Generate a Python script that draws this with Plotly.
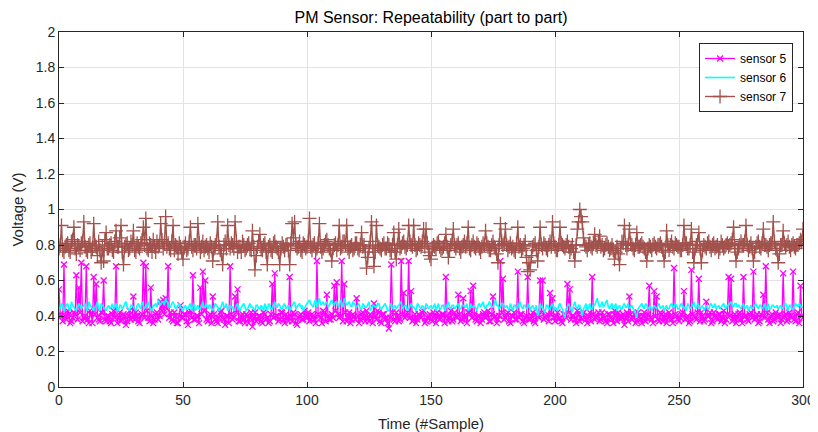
import plotly.graph_objects as go

# integer sample indices 0..300 and half-sample indices 0.5..299.5
samples_int = list(range(0, 301))
samples_half = [i + 0.5 for i in range(0, 300)]

# sensor 5 at integer samples (hundredths of a volt)
sensor5_cV = [
    55, 40, 69, 38, 41, 37, 42, 63, 56, 70,
    39, 68, 36, 41, 62, 58, 38, 42, 60, 37,
    40, 36, 43, 68, 39, 37, 41, 35, 40, 38,
    51, 42, 37, 40, 70, 68, 39, 56, 36, 41,
    38, 48, 49, 50, 68, 42, 37, 40, 36, 46,
    39, 41, 35, 43, 63, 38, 40, 56, 65, 60,
    37, 41, 51, 38, 36, 42, 39, 35, 40, 68,
    38, 51, 55, 37, 41, 36, 40, 39, 34, 42,
    38, 40, 36, 41, 39, 37, 58, 64, 40, 38,
    42, 36, 39, 62, 37, 41, 35, 40, 38, 43,
    39, 37, 41, 38, 71, 40, 36, 42, 52, 38,
    41, 57, 59, 39, 71, 58, 37, 42, 38, 40,
    50, 36, 41, 39, 43, 37, 40, 47, 38, 42,
    36, 41, 39, 33, 69, 38, 42, 37, 71, 53,
    40, 71, 54, 38, 36, 41, 39, 43, 37, 40,
    38, 42, 36, 40, 39, 41, 62, 37, 43, 38,
    40, 52, 37, 50, 39, 42, 54, 57, 38, 40,
    36, 41, 39, 43, 37, 51, 40, 38, 71, 61,
    39, 42, 36, 40, 38, 65, 41, 37, 39, 62,
    38, 42, 36, 40, 60, 60, 39, 41, 53, 50,
    37, 42, 39, 36, 41, 58, 55, 40, 38, 43,
    37, 41, 39, 36, 42, 62, 38, 40, 37, 42,
    39, 36, 41, 38, 43, 37, 40, 39, 35, 42,
    51, 38, 41, 37, 40, 36, 42, 39, 57, 38,
    54, 51, 37, 41, 39, 36, 42, 38, 67, 40,
    37, 41, 54, 39, 36, 66, 40, 38, 61, 42,
    37, 48, 40, 36, 42, 39, 41, 37, 43, 38,
    62, 61, 39, 36, 41, 38, 62, 40, 37, 42,
    65, 39, 36, 41, 52, 68, 38, 40, 37, 42,
    39, 36, 64, 41, 38, 40, 65, 37, 42, 57,
    39,
]

# sensor 5 at half samples (hundredths of a volt)
sensor5_half_cV = [
    41, 37, 40, 43, 36, 39, 41, 38, 42, 37,
    40, 38, 43, 36, 41, 39, 37, 42, 38, 40,
    37, 41, 39, 36, 42, 38, 40, 37, 43, 39,
    38, 40, 36, 41, 39, 43, 37, 40, 38, 42,
    40, 43, 41, 44, 39, 38, 42, 36, 40, 39,
    41, 37, 42, 39, 38, 40, 36, 41, 43, 38,
    40, 36, 41, 37, 39, 43, 38, 40, 36, 41,
    39, 42, 37, 40, 38, 41, 36, 42, 39, 37,
    40, 37, 42, 38, 36, 41, 39, 40, 37, 42,
    38, 41, 37, 40, 42, 36, 39, 41, 38, 40,
    42, 38, 40, 36, 41, 39, 43, 37, 40, 38,
    39, 43, 41, 40, 37, 42, 39, 36, 41, 38,
    40, 38, 42, 37, 39, 41, 36, 40, 43, 37,
    41, 38, 36, 39, 42, 37, 40, 38, 41, 39,
    42, 39, 37, 41, 38, 40, 42, 36, 39, 41,
    37, 40, 42, 38, 41, 36, 40, 39, 37, 42,
    39, 41, 38, 40, 36, 42, 39, 41, 37, 40,
    38, 42, 40, 37, 41, 39, 36, 40, 42, 38,
    41, 37, 40, 42, 38, 39, 41, 36, 40, 38,
    40, 37, 41, 39, 42, 38, 40, 37, 41, 39,
    40, 38, 37, 41, 39, 42, 38, 40, 36, 41,
    39, 42, 38, 40, 37, 41, 39, 42, 38, 40,
    37, 41, 39, 36, 40, 42, 38, 41, 39, 37,
    41, 39, 36, 42, 38, 40, 37, 41, 39, 36,
    40, 38, 42, 37, 41, 39, 40, 36, 41, 38,
    39, 42, 38, 40, 37, 41, 39, 42, 37, 40,
    38, 40, 42, 37, 40, 38, 41, 39, 36, 41,
    40, 37, 41, 39, 42, 36, 40, 38, 41, 39,
    38, 41, 37, 40, 39, 42, 36, 41, 38, 40,
    41, 38, 40, 37, 42, 39, 38, 41, 36, 40,
]

# sensor 6 at integer samples (hundredths of a volt)
sensor6_cV = [
    45, 47, 43, 46, 44, 48, 45, 43, 47, 44,
    46, 44, 48, 45, 43, 46, 44, 47, 45, 43,
    46, 45, 44, 47, 43, 46, 45, 48, 44, 46,
    45, 43, 47, 44, 46, 45, 48, 44, 46, 47,
    49, 46, 48, 50, 47, 45, 48, 44, 46, 45,
    43, 46, 44, 47, 45, 43, 46, 44, 48, 45,
    44, 46, 43, 47, 45, 44, 48, 45, 43, 46,
    45, 44, 47, 43, 46, 45, 44, 47, 45, 43,
    46, 44, 45, 47, 43, 46, 44, 48, 45, 46,
    44, 47, 45, 43, 46, 48, 45, 47, 46, 44,
    47, 49, 46, 48, 45, 50, 47, 46, 48, 46,
    49, 46, 48, 45, 47, 50, 46, 48, 45, 47,
    45, 47, 44, 46, 45, 48, 44, 46, 45, 47,
    44, 46, 45, 43, 47, 45, 44, 46, 48, 45,
    46, 44, 47, 45, 43, 46, 44, 45, 47, 44,
    46, 45, 43, 47, 44, 46, 45, 48, 44, 46,
    45, 47, 44, 46, 45, 43, 47, 45, 44, 46,
    45, 48, 44, 46, 47, 45, 49, 46, 45, 47,
    45, 44, 47, 43, 46, 45, 48, 44, 46, 45,
    43, 46, 44, 40, 47, 45, 42, 46, 44, 47,
    45, 43, 47, 44, 39, 46, 45, 42, 48, 44,
    46, 40, 45, 43, 47, 44, 46, 50, 45, 48,
    46, 49, 44, 47, 45, 43, 46, 44, 47, 45,
    44, 46, 43, 39, 45, 47, 44, 46, 45, 43,
    46, 44, 47, 45, 43, 46, 44, 47, 45, 46,
    44, 47, 45, 43, 46, 45, 48, 44, 46, 45,
    43, 46, 44, 47, 45, 44, 46, 45, 47, 44,
    46, 48, 45, 47, 46, 44, 47, 45, 43, 46,
    45, 47, 44, 46, 45, 43, 47, 44, 46, 45,
    44, 46, 45, 47, 43, 46, 44, 47, 45, 46,
    45,
]

# sensor 6 at half samples (hundredths of a volt)
sensor6_half_cV = [
    44, 46, 45, 47, 43, 46, 44, 45, 46, 45,
    47, 43, 46, 44, 45, 48, 43, 46, 44, 45,
    44, 47, 45, 43, 46, 44, 47, 45, 43, 46,
    44, 46, 45, 48, 44, 47, 45, 43, 46, 45,
    47, 48, 46, 48, 45, 47, 46, 45, 47, 44,
    45, 44, 46, 43, 47, 45, 44, 46, 45, 47,
    46, 44, 45, 46, 43, 46, 45, 47, 44, 45,
    43, 46, 44, 45, 47, 43, 46, 45, 44, 46,
    44, 46, 43, 45, 47, 44, 46, 45, 47, 44,
    46, 44, 46, 45, 47, 44, 46, 45, 43, 46,
    48, 47, 45, 49, 47, 46, 48, 47, 45, 48,
    47, 48, 46, 49, 45, 48, 47, 46, 48, 46,
    46, 44, 47, 45, 47, 43, 46, 45, 47, 44,
    45, 47, 43, 46, 44, 46, 45, 47, 44, 46,
    43, 46, 45, 44, 47, 45, 46, 43, 46, 45,
    44, 47, 45, 44, 46, 43, 47, 45, 46, 44,
    46, 44, 46, 45, 47, 44, 45, 46, 43, 47,
    47, 45, 46, 48, 45, 47, 46, 44, 47, 45,
    46, 43, 45, 46, 44, 47, 45, 46, 44, 47,
    45, 44, 46, 42, 45, 43, 46, 44, 46, 43,
    44, 46, 45, 41, 44, 47, 43, 46, 45, 46,
    43, 44, 47, 45, 44, 46, 48, 47, 46, 45,
    48, 45, 46, 44, 47, 45, 44, 46, 45, 47,
    45, 44, 41, 44, 46, 45, 47, 44, 46, 45,
    45, 46, 44, 46, 45, 44, 46, 45, 47, 44,
    46, 45, 44, 47, 44, 46, 45, 47, 44, 46,
    45, 44, 46, 45, 47, 45, 44, 46, 45, 46,
    47, 46, 47, 45, 45, 46, 44, 46, 45, 44,
    46, 45, 46, 44, 47, 45, 44, 46, 45, 46,
    45, 44, 47, 45, 46, 44, 45, 46, 47, 45,
]

# sensor 7 at integer samples (hundredths of a volt)
sensor7_cV = [
    78, 91, 76, 80, 77, 82, 90, 75, 79, 81,
    93, 77, 80, 76, 92, 79, 82, 70, 71, 87,
    78, 81, 76, 88, 79, 91, 69, 80, 77, 82,
    88, 76, 79, 81, 90, 95, 77, 80, 83, 76,
    79, 92, 78, 96, 81, 77, 91, 80, 75, 79,
    72, 81, 78, 90, 77, 80, 92, 76, 82, 79,
    78, 81, 71, 80, 93, 77, 69, 82, 91, 78,
    80, 93, 76, 79, 82, 77, 80, 78, 88, 66,
    79, 86, 77, 81, 69, 80, 76, 82, 78, 69,
    81, 77, 80, 69, 92, 93, 78, 82, 76, 80,
    79, 95, 77, 81, 78, 92, 76, 80, 83, 78,
    71, 80, 77, 91, 79, 82, 91, 76, 80, 78,
    81, 77, 87, 80, 67, 78, 93, 68, 91, 79,
    77, 81, 78, 80, 76, 87, 72, 89, 79, 82,
    78, 91, 80, 91, 77, 81, 79, 89, 89, 76,
    72, 80, 78, 82, 77, 79, 86, 73, 80, 89,
    78, 81, 76, 80, 79, 90, 77, 82, 78, 80,
    76, 81, 88, 79, 77, 82, 78, 70, 92, 80,
    89, 77, 81, 79, 76, 90, 80, 78, 82, 65,
    66, 79, 81, 71, 90, 78, 80, 77, 82, 93,
    79, 77, 90, 80, 78, 82, 76, 80, 71, 89,
    100, 93, 80, 77, 81, 78, 86, 79, 85, 80,
    78, 81, 77, 80, 72, 79, 69, 82, 91, 78,
    89, 80, 77, 87, 79, 81, 78, 71, 80, 77,
    81, 78, 80, 79, 71, 88, 77, 82, 78, 80,
    79, 77, 91, 81, 78, 89, 70, 80, 87, 70,
    80, 78, 82, 77, 81, 79, 76, 82, 78, 80,
    79, 81, 90, 71, 78, 82, 80, 91, 77, 81,
    71, 79, 82, 78, 89, 80, 77, 81, 93, 78,
    70, 80, 88, 79, 82, 77, 81, 78, 80, 83,
    89,
]

# sensor 7 at half samples (hundredths of a volt)
sensor7_half_cV = [
    80, 77, 79, 81, 76, 83, 78, 80, 77, 82,
    79, 76, 81, 78, 80, 74, 77, 79, 83, 78,
    80, 77, 82, 79, 84, 76, 79, 81, 78, 80,
    77, 81, 78, 83, 80, 78, 81, 76, 79, 82,
    80, 83, 81, 79, 78, 82, 77, 79, 81, 76,
    79, 77, 82, 79, 80, 78, 81, 79, 77, 80,
    76, 79, 78, 82, 79, 75, 80, 78, 80, 81,
    78, 82, 79, 76, 80, 78, 81, 77, 79, 74,
    82, 78, 80, 76, 79, 77, 81, 79, 76, 78,
    79, 80, 77, 81, 84, 80, 79, 77, 81, 78,
    82, 79, 80, 76, 81, 79, 78, 82, 80, 77,
    78, 81, 80, 78, 82, 80, 78, 79, 77, 81,
    78, 80, 79, 76, 73, 82, 79, 76, 80, 78,
    80, 78, 81, 77, 80, 76, 80, 78, 81, 79,
    80, 82, 79, 80, 78, 80, 82, 79, 81, 74,
    78, 79, 81, 79, 78, 81, 79, 77, 82, 80,
    80, 78, 79, 82, 81, 78, 80, 79, 81, 78,
    79, 80, 81, 77, 80, 79, 75, 80, 82, 81,
    80, 79, 78, 77, 81, 79, 77, 80, 73, 70,
    74, 80, 77, 79, 80, 81, 78, 80, 79, 81,
    77, 80, 81, 79, 80, 79, 78, 76, 80, 93,
    96, 84, 79, 80, 79, 81, 80, 82, 79, 77,
    80, 79, 78, 77, 76, 75, 78, 81, 80, 80,
    81, 78, 80, 79, 80, 79, 76, 78, 79, 80,
    79, 80, 81, 77, 76, 80, 80, 79, 81, 79,
    77, 80, 81, 78, 80, 76, 78, 82, 78, 77,
    79, 81, 79, 80, 78, 80, 78, 80, 79, 81,
    80, 83, 78, 76, 80, 80, 82, 80, 79, 78,
    76, 81, 79, 81, 80, 79, 80, 81, 82, 77,
    75, 80, 81, 80, 79, 80, 79, 80, 81, 82,
]

series_names = ["sensor 5", "sensor 6", "sensor 7"]
x_ticks = [0, 50, 100, 150, 200, 250, 300]
y_ticks = [0, 0.2, 0.4, 0.6, 0.8, 1, 1.2, 1.4, 1.6, 1.8, 2]


def interleave(full, half):
    out = []
    for i in range(len(half)):
        out.append(full[i])
        out.append(half[i])
    out.append(full[-1])
    return out


x_all = interleave(samples_int, samples_half)
s5 = [v / 100 for v in interleave(sensor5_cV, sensor5_half_cV)]
s6 = [v / 100 for v in interleave(sensor6_cV, sensor6_half_cV)]
s7 = [v / 100 for v in interleave(sensor7_cV, sensor7_half_cV)]

MAG = "#ff00ff"
CYA = "#00ffff"
BRN = "#a2524d"
AX = "#262626"
FONT = "Liberation Sans, Arial, sans-serif"

fig = go.Figure()
fig.add_trace(go.Scatter(
    x=x_all, y=s5, name=series_names[0], mode="lines+markers",
    line=dict(color=MAG, width=1.3),
    marker=dict(symbol="x-thin", size=6, color=MAG, line=dict(color=MAG, width=1.3)),
))
fig.add_trace(go.Scatter(
    x=x_all, y=s6, name=series_names[1], mode="lines",
    line=dict(color=CYA, width=1.6),
))
fig.add_trace(go.Scatter(
    x=x_all, y=s7, name=series_names[2], mode="lines+markers",
    line=dict(color=BRN, width=1.4),
    marker=dict(symbol="cross-thin", size=10, color=BRN, line=dict(color=BRN, width=1.3)),
))

axis_common = dict(
    showline=True, linecolor=AX, linewidth=1, mirror="ticks",
    ticks="inside", ticklen=5, tickcolor=AX, tickwidth=1,
    showgrid=True, gridcolor="#e3e3e3", gridwidth=1,
    zeroline=False, automargin=False,
    tickfont=dict(family=FONT, size=14, color=AX),
)

# the page body adds an 8px offset, so the figure is 8px smaller than the window
fig.update_layout(
    width=810, height=424,
    margin=dict(l=51, r=15, t=24, b=45),
    paper_bgcolor="white", plot_bgcolor="white",
    font=dict(family=FONT, color=AX),
    title=dict(text="PM Sensor: Repeatability (part to part)", x=0.5, xref="paper",
               xanchor="center", yref="container", y=0.992, yanchor="top",
               pad=dict(t=0, b=0, l=0, r=0),
               font=dict(size=16, color="#000000")),
    xaxis=dict(range=[0, 300], tickvals=x_ticks, ticktext=[str(v) for v in x_ticks],
               title=dict(text="Time (#Sample)", font=dict(size=15, color=AX), standoff=12),
               **axis_common),
    yaxis=dict(range=[0, 2], tickvals=y_ticks, ticktext=[("%g" % v) for v in y_ticks],
               title=dict(text="Voltage (V)", font=dict(size=15, color=AX), standoff=8),
               **axis_common),
    legend=dict(x=0.9866, xanchor="right", y=0.969, yanchor="top",
                bgcolor="white", bordercolor=AX, borderwidth=1,
                font=dict(size=12, color="#000000"), tracegroupgap=0),
    showlegend=True,
)

fig.write_html("out.html")
